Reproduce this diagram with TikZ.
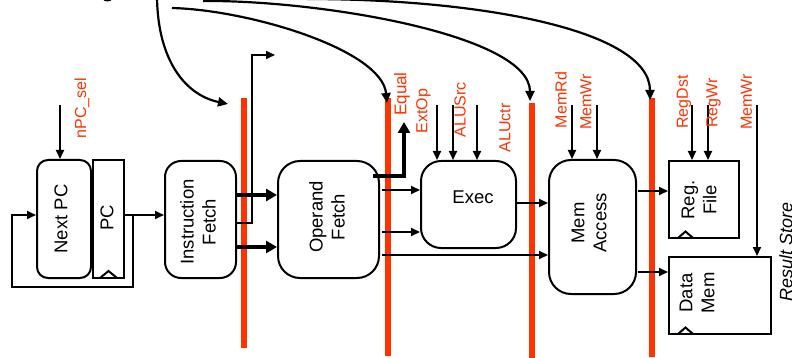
\documentclass[tikz,border=0pt]{standalone}
\usepackage{fontspec}
\setmainfont{Liberation Sans}
\usetikzlibrary{arrows.meta}
\definecolor{ctl}{RGB}{255,51,0}
\begin{document}
\begin{tikzpicture}[x=1pt,y=-1pt,
  blk/.style={draw,line width=2pt,rounded corners=#1,inner sep=0pt},
  blk/.default=12pt,
  sq/.style={draw,line width=2pt,inner sep=0pt},
  btxt/.style={rotate=90,align=center,inner sep=0pt,font=\fontsize{18.5}{22}\selectfont},
  lbl/.style={rotate=90,text=ctl,inner sep=0pt,font=\fontsize{16}{18}\selectfont},
  w/.style={line width=2pt},
  a/.style={line width=2pt,-{Triangle[length=9pt,width=8pt]}},
  ta/.style={line width=4pt,-{Triangle[length=11pt,width=12pt]}},
  ca/.style={line width=2.2pt,-{Triangle[length=10pt,width=9pt]}},
  bar/.style={draw=ctl,line width=5.5pt},
  clk/.style={line width=2pt,line join=miter}
]
\useasboundingbox (0,0) rectangle (792,358);

% red pipeline bars
\draw[bar] (244,98) -- (244,348);
\draw[bar] (388,98) -- (388,356);
\draw[bar] (532,103) -- (532,360);
\draw[bar] (652,98) -- (652,357);

% blocks
\node[blk=11pt,minimum width=54pt,minimum height=118pt] (npc) at (64,219) {};
\node[btxt] (npct) at (61,219) {Next PC};
\node[sq,minimum width=31pt,minimum height=118pt] (pc) at (108.5,219) {};
\node[btxt] (pct) at (107,218) {PC};
\node[blk=16pt,minimum width=71pt,minimum height=117pt] (if) at (200.5,219.5) {};
\node[btxt] (ift) at (198,222) {Instruction\\Fetch};
\node[blk=22pt,minimum width=101pt,minimum height=117pt] (of) at (328.5,219.5) {};
\node[btxt] (oft) at (327,217) {Operand\\Fetch};
\node[blk=20pt,minimum width=95pt,minimum height=87pt] (ex) at (468.5,204.5) {};
\node[inner sep=0pt,font=\fontsize{18.5}{22}\selectfont] (ext) at (473,197) {Exec};
\node[blk=22pt,minimum width=87pt,minimum height=134pt] (ma) at (592.5,227) {};
\node[btxt] (mat) at (589,223) {Mem\\Access};
\node[sq,minimum width=70pt,minimum height=77pt] (rf) at (704,199.5) {};
\node[btxt] (rft) at (699,200) {Reg.\\File};
\node[sq,minimum width=102pt,minimum height=77pt] (dm) at (720,295.5) {};
\node[btxt] (dmt) at (697,293) {Data\\Mem};

% clock marks
\draw[clk] (100,278) -- (108.5,271) -- (117,278);
\draw[clk] (678,238) -- (685.5,231.5) -- (693,238);
\draw[clk] (678,334) -- (685.5,327.5) -- (693,334);

% nPC_sel
\coordinate (nsel) at (60,105);
\draw[a] (nsel) -- (nsel |- npc.north);
\node[lbl] (lnsel) at (82,108) {nPC\_sel};

% PC to IF and loop back
\coordinate (j1) at (133,215);
\draw[a] (pc.east |- j1) -- (if.west |- j1);
\draw[a] (j1) |- (12,287) |- (npc.west |- j1);

% IF to OF
\draw[ta] (if.east |- 0,195) -- (of.west |- 0,195);
\draw[ta] (if.east |- 0,247) -- (of.west |- 0,247);
\coordinate (ifo) at (275,55);
\draw[a] (if.east |- 0,223) -| (252,55) -- (ifo);

% OF outputs
\coordinate (eq) at (404,122);
\draw[ta,line join=miter] (373,176) -| (eq);
\draw[a] (382,190) -- (ex.west |- 0,190);
\draw[a] (382,232) -- (ex.west |- 0,232);
\draw[a] (382,255) -- (ma.west |- 0,255);
\draw[a] (ex.east |- 0,203) -- (ma.west |- 0,203);
\draw[a] (638,191) -- (rf.west |- 0,191);
\draw[a] (638,272) -- (dm.west |- 0,272);

% control inputs
\foreach \n/\x/\t in {e1/437/ex,e2/453/ex,e3/477/ex,m1/572/ma,m2/597/ma,r1/692/rf,r2/708/rf,d1/757/dm}{
  \coordinate (\n) at (\x,105);
  \draw[a] (\n) -- (\n |- \t.north);
}
\node[lbl,font=\fontsize{17}{18}\selectfont] (leq) at (402,94) {Equal};
\node[lbl] (lextop) at (423.5,111) {ExtOp};
\node[lbl] (lalusrc) at (460,110) {ALUSrc};
\node[lbl] (laluctr) at (505,128) {ALUctr};
\node[lbl] (lmemrd) at (561,100) {MemRd};
\node[lbl] (lmemwr) at (586,102) {MemWr};
\node[lbl] (lregdst) at (684,102) {RegDst};
\node[lbl] (lregwr) at (713.5,103) {RegWr};
\node[lbl] (lmemwr2) at (746.5,102) {MemWr};

% result store
\node[rotate=90,inner sep=0pt,font=\fontsize{18}{22}\selectfont\itshape,anchor=north] (rs) at (779,252) {Result Store};

% control curves from above
\fill (107.5,-1) ellipse (4.5pt and 2.5pt);
\coordinate (s1) at (157,-2);
\coordinate (t1) at (228,104);
\draw[ca] (s1) .. controls (158,60) and (185,95) .. (t1);
\coordinate (s2) at (172,8);
\coordinate (t2) at (387,103);
\draw[ca] (s2) .. controls (250,10) and (382,50) .. (t2);
\coordinate (s3) at (203,1);
\coordinate (t3) at (530,101);
\draw[ca] (s3) .. controls (320,0) and (530,35) .. (t3);
\coordinate (s4) at (307,-1);
\coordinate (t4) at (650,100);
\draw[ca] (s4) .. controls (480,-1) and (650,30) .. (t4);
\end{tikzpicture}
\end{document}
